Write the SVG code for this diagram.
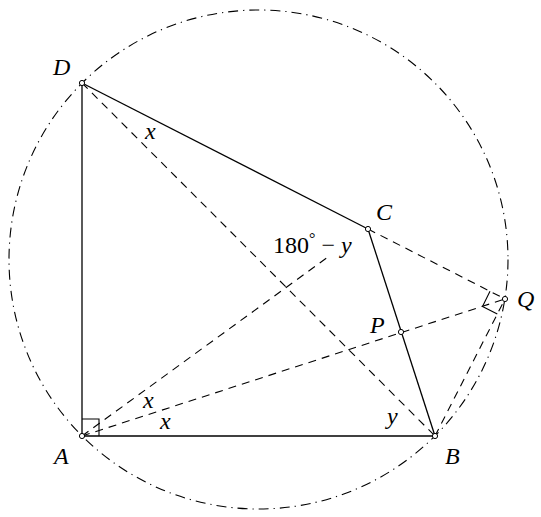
<svg xmlns="http://www.w3.org/2000/svg" width="541" height="517" viewBox="0 0 541 517">
<style>
.solid{stroke:#000;stroke-width:1.3;fill:none}
.dash{stroke:#000;stroke-width:1.1;fill:none;stroke-dasharray:8 6}
.dd{stroke:#000;stroke-width:1.1;fill:none;stroke-dasharray:10 5 1.2 5}
.ra{stroke:#000;stroke-width:1.1;fill:none}
.pt{fill:#fff;stroke:#000;stroke-width:1}
.lbl{font-family:"Liberation Serif",serif;font-style:italic;font-size:24px;fill:#000}
.num{font-family:"Liberation Serif",serif;font-size:24px;fill:#000}
</style>
<rect width="541" height="517" fill="#fff"/>
<g id="circle">
<circle class="dd" cx="258.5" cy="259.5" r="249.5"/>
</g>
<g id="connectors">
<line class="solid" x1="82" y1="83" x2="82" y2="436"/>
<line class="solid" x1="82" y1="436" x2="435" y2="436"/>
<line class="solid" x1="82" y1="83" x2="368" y2="229"/>
<line class="solid" x1="368" y1="229" x2="435" y2="436"/>
<line class="dash" x1="82" y1="83" x2="435" y2="436"/>
<line class="dash" x1="82" y1="436" x2="328" y2="257"/>
<line class="dash" x1="82" y1="436" x2="505" y2="299"/>
<line class="dash" x1="368" y1="229" x2="505" y2="299"/>
<line class="dash" x1="435" y1="436" x2="505" y2="299"/>
<polyline class="ra" points="82,419 99,419 99,436"/>
<polyline class="ra" points="490,291.3 482.5,306.5 497.3,314.1"/>
</g>
<g id="A"><circle class="pt" cx="82" cy="436" r="2.6"/><text class="lbl" x="54" y="464">A</text></g>
<g id="B"><circle class="pt" cx="435" cy="436" r="2.6"/><text class="lbl" x="445" y="464">B</text></g>
<g id="C"><circle class="pt" cx="368" cy="229" r="2.6"/><text class="lbl" x="376" y="220">C</text></g>
<g id="D"><circle class="pt" cx="82" cy="83" r="2.6"/><text class="lbl" x="53" y="75">D</text></g>
<g id="P"><circle class="pt" cx="401" cy="332" r="2.6"/><text class="lbl" x="370" y="333">P</text></g>
<g id="Q"><circle class="pt" cx="505" cy="299" r="2.6"/><text class="lbl" x="517" y="307">Q</text></g>
<g id="labels">
<text class="lbl" x="145" y="139">x</text>
<text class="lbl" x="143" y="408">x</text>
<text class="lbl" x="160" y="429">x</text>
<text class="lbl" x="387" y="424">y</text>
<text class="num" x="273" y="253">180<tspan dy="-9" font-size="16">°</tspan><tspan dy="9"> − </tspan><tspan font-style="italic">y</tspan></text>
</g>
</svg>
